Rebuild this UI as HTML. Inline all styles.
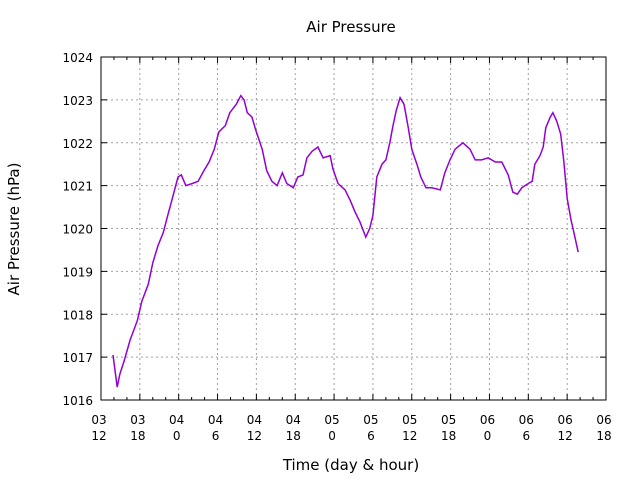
<!DOCTYPE html>
<html><head><meta charset="utf-8"><style>
body{margin:0;background:#fff}
svg{display:block;font-family:"DejaVu Sans","Liberation Sans",sans-serif}
</style></head><body>
<svg id="chart" width="640" height="480">
<text x="351" y="32" text-anchor="middle" font-size="15">Air Pressure</text>
<text x="351" y="470" text-anchor="middle" font-size="15">Time (day &amp; hour)</text>
<text transform="translate(19,229) rotate(-90)" text-anchor="middle" font-size="15">Air Pressure (hPa)</text>
<g id="grid"></g><g id="axes"></g><g id="series"></g>
<rect x="101" y="57" width="505" height="343" fill="none" stroke="#000" stroke-width="1"/>
</svg>
<script>
const hours=[1.85,2.5,2.9,3.55,4.5,5.6,6.3,7.3,8.0,8.8,9.6,10.3,11.1,11.9,12.4,13.1,14.1,15,15.9,16.7,17.5,18.2,19.2,19.9,20.9,21.6,22.1,22.6,23.3,23.9,24.9,25.6,26.4,27.2,28,28.7,29.7,30.4,31.2,31.8,32.6,33.5,34.3,35.4,35.8,36.6,37.7,38.5,39.2,40,40.9,41.5,42,42.6,43.4,44,44.6,45.1,45.6,46.2,46.8,47.4,48,48.8,49.4,50.2,51.1,52.4,53.1,53.9,54.7,55.9,57,57.8,58.8,59.8,60.9,61.9,62.9,63.6,64.3,65,66,66.6,67,67.8,68.3,68.7,69.4,69.8,70.4,71,71.5,72,72.6,73.2,73.7];
const pressure=[1017.05,1016.3,1016.6,1016.9,1017.4,1017.85,1018.3,1018.7,1019.2,1019.6,1019.9,1020.3,1020.75,1021.2,1021.25,1021.0,1021.05,1021.1,1021.35,1021.55,1021.85,1022.25,1022.4,1022.7,1022.9,1023.1,1023.0,1022.7,1022.6,1022.3,1021.85,1021.35,1021.1,1021.0,1021.3,1021.05,1020.95,1021.2,1021.25,1021.65,1021.8,1021.9,1021.65,1021.7,1021.4,1021.05,1020.9,1020.65,1020.4,1020.15,1019.8,1020.0,1020.3,1021.2,1021.5,1021.6,1022.0,1022.4,1022.75,1023.05,1022.9,1022.4,1021.85,1021.5,1021.2,1020.95,1020.95,1020.9,1021.3,1021.6,1021.85,1022.0,1021.85,1021.6,1021.6,1021.65,1021.55,1021.55,1021.25,1020.85,1020.8,1020.95,1021.05,1021.1,1021.5,1021.7,1021.9,1022.35,1022.6,1022.7,1022.5,1022.2,1021.55,1020.7,1020.2,1019.8,1019.45];
const yTicks=[1016,1017,1018,1019,1020,1021,1022,1023,1024];
const xDays=["03","03","04","04","04","04","05","05","05","05","06","06","06","06"];
const xHours=["12","18","0","6","12","18","0","6","12","18","0","6","12","18"];
const X0=101,X1=606,Y0=400,Y1=57,HMAX=78;
const sx=h=>X0+(X1-X0)*h/HMAX;
const sy=p=>Y0-(Y0-Y1)*(p-1016)/8;
const NS="http://www.w3.org/2000/svg";
const grid=document.getElementById('grid'),axes=document.getElementById('axes'),ser=document.getElementById('series');
function mk(tag,attrs,parent){const e=document.createElementNS(NS,tag);for(const k in attrs)e.setAttribute(k,attrs[k]);parent.appendChild(e);return e;}
yTicks.forEach((v,i)=>{
  const y=sy(v);
  if(i>0&&i<yTicks.length-1){const g=mk('line',{x1:X0,x2:X1,y1:y,y2:y,stroke:'#a0a0a0','stroke-dasharray':'2,3'},grid);
  
  }
  mk('line',{x1:X0,x2:X0+6,y1:y,y2:y,stroke:'#000'},axes);
  mk('line',{x1:X1,x2:X1-6,y1:y,y2:y,stroke:'#000'},axes);
  const t=mk('text',{x:X0-8,y:y+5,'text-anchor':'end','font-size':'12'},axes);
  t.textContent=v;
  
  
});
xDays.forEach((d,i)=>{
  const x=sx(i*6);
  if(i>0&&i<xDays.length-1){const g=mk('line',{x1:x,x2:x,y1:Y0,y2:Y1,stroke:'#a0a0a0','stroke-dasharray':'2,3'},grid);
  
  }
  mk('line',{x1:x,x2:x,y1:Y0,y2:Y0-6,stroke:'#000'},axes);
  mk('line',{x1:x,x2:x,y1:Y1,y2:Y1+6,stroke:'#000'},axes);
  if(i<xDays.length-1)for(let m=1;m<3;m++){const mx=sx(i*6+m*2);
    mk('line',{x1:mx,x2:mx,y1:Y0,y2:Y0-3,stroke:'#000'},axes);
    mk('line',{x1:mx,x2:mx,y1:Y1,y2:Y1+3,stroke:'#000'},axes);}
  const t=mk('text',{x:x-2,y:424,'text-anchor':'middle','font-size':'12'},axes);
  t.textContent=d;
  
  
  const t2=mk('text',{x:x-2,y:440,'text-anchor':'middle','font-size':'12'},axes);
  t2.textContent=xHours[i];
  
  
});
const pts=hours.map((h,i)=>sx(h).toFixed(1)+','+sy(pressure[i]).toFixed(1)).join(' ');
const line=mk('polyline',{points:pts,fill:'none',stroke:'#9400d3','stroke-width':'1.5'},ser);


</script>
</body></html>
